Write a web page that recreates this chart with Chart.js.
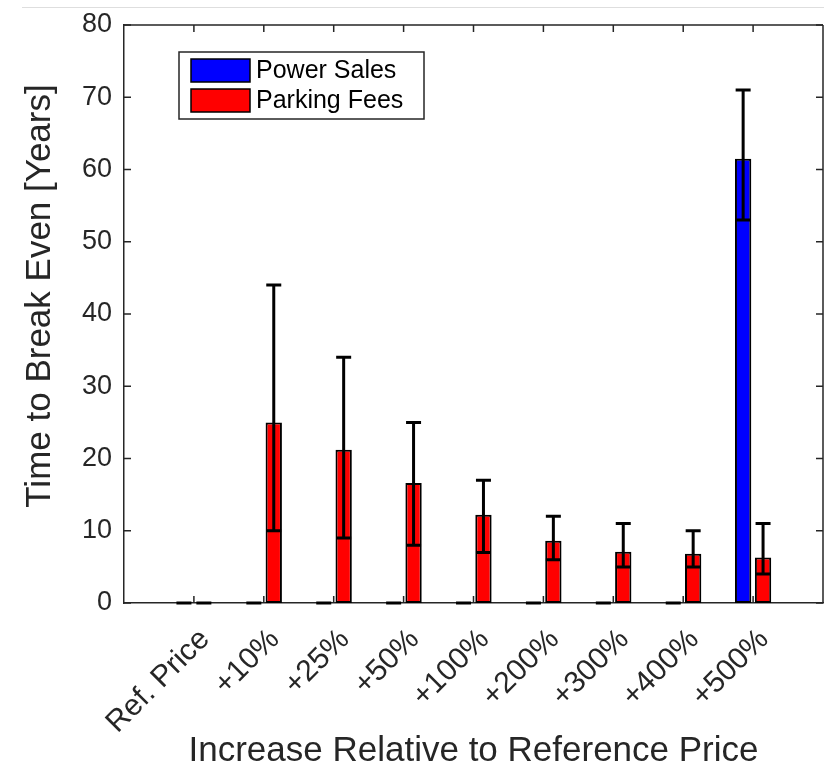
<!DOCTYPE html>
<html>
<head>
<meta charset="utf-8">
<script src="https://cdn.jsdelivr.net/npm/chart.js@4/dist/chart.umd.min.js"></script>
<style>
  html, body { margin: 0; padding: 0; background: #fff; }
  #wrap { width: 824px; height: 769px; }
</style>
</head>
<body>
<div id="wrap"><canvas id="chart" width="824" height="769"></canvas></div>
<script>
// --- data ---
const categories = ['Ref. Price', '+10%', '+25%', '+50%', '+100%', '+200%', '+300%', '+400%', '+500%'];

const powerSales     = [0, 0, 0, 0, 0, 0, 0, 0, 61.5];
const powerSalesLow  = [0, 0, 0, 0, 0, 0, 0, 0, 53];
const powerSalesHigh = [0, 0, 0, 0, 0, 0, 0, 0, 71];

const parkingFees     = [0, 25, 21.2, 16.6, 12.2, 8.6, 7.1, 6.8, 6.3];
const parkingFeesLow  = [0, 10, 9, 8, 7, 6, 5, 5, 4];
const parkingFeesHigh = [0, 44, 34, 25, 17, 12, 11, 10, 11];

const yTickValues = [0, 10, 20, 30, 40, 50, 60, 70, 80];

const AXIS = '#262626';
const FONT = '"Liberation Sans", Arial, Helvetica, sans-serif';

// MATLAB-style xlim leaves a full slot on both sides, so pad the category list
const pad = arr => [null, ...arr, null];
const labels = ['', ...categories, ''];

// error bars (drawn over the bars, like errorbar() in MATLAB)
const errorBarPlugin = {
    id: 'errorBars',
    afterDatasetsDraw(chart) {
        const ctx = chart.ctx;
        const y = chart.scales.y;
        ctx.save();
        ctx.strokeStyle = '#000';
        ctx.lineWidth = 3;
        chart.data.datasets.forEach((ds, d) => {
            const meta = chart.getDatasetMeta(d);
            meta.data.forEach((bar, i) => {
                const lo = ds.errLow[i], hi = ds.errHigh[i];
                if (lo == null || hi == null) return;
                const yl = y.getPixelForValue(lo), yh = y.getPixelForValue(hi);
                const cap = 7.5;
                ctx.beginPath();
                ctx.moveTo(bar.x, yl); ctx.lineTo(bar.x, yh);
                ctx.moveTo(bar.x - cap, yl); ctx.lineTo(bar.x + cap, yl);
                ctx.moveTo(bar.x - cap, yh); ctx.lineTo(bar.x + cap, yh);
                ctx.stroke();
            });
        });
        ctx.restore();
    }
};

// box, inward ticks, y title, legend
const decorPlugin = {
    id: 'decor',
    afterDraw(chart) {
        const ctx = chart.ctx;
        const { left, right, top, bottom } = chart.chartArea;
        const x = chart.scales.x, y = chart.scales.y;
        ctx.save();

        // faint screenshot edge at the top
        ctx.strokeStyle = '#dedede';
        ctx.lineWidth = 1;
        ctx.beginPath(); ctx.moveTo(22, 7.5); ctx.lineTo(824, 7.5); ctx.stroke();

        ctx.strokeStyle = AXIS;
        ctx.lineWidth = 1.5;
        ctx.beginPath();
        ctx.moveTo(left, top); ctx.lineTo(right, top);
        ctx.moveTo(right, top); ctx.lineTo(right, bottom);
        ctx.stroke();

        const tl = 7;
        ctx.beginPath();
        y.ticks.forEach((t, i) => {
            const py = y.getPixelForTick(i);
            ctx.moveTo(left, py); ctx.lineTo(left + tl, py);
            ctx.moveTo(right, py); ctx.lineTo(right - tl, py);
        });
        for (let i = 1; i <= categories.length; i++) {
            const px = x.getPixelForTick(i);
            ctx.moveTo(px, bottom); ctx.lineTo(px, bottom - tl);
            ctx.moveTo(px, top); ctx.lineTo(px, top + tl);
        }
        ctx.stroke();

        // y axis title
        ctx.fillStyle = AXIS;
        ctx.font = '35px ' + FONT;
        ctx.textAlign = 'center';
        ctx.textBaseline = 'middle';
        ctx.translate(40, 296);
        ctx.rotate(-Math.PI / 2);
        ctx.fillText('Time to Break Even [Years]', 0, 0);
        ctx.setTransform(1, 0, 0, 1, 0, 0);

        // legend box
        const lx = left + 55, ly = top + 27, lw = 245, lh = 67;
        ctx.fillStyle = '#fff';
        ctx.fillRect(lx, ly, lw, lh);
        ctx.strokeStyle = AXIS;
        ctx.lineWidth = 1.5;
        ctx.strokeRect(lx, ly, lw, lh);
        ctx.font = '25px ' + FONT;
        ctx.textAlign = 'left';
        chart.data.datasets.forEach((ds, d) => {
            const sy = ly + 7 + d * 30;
            ctx.fillStyle = ds.backgroundColor;
            ctx.fillRect(lx + 12, sy, 59, 23);
            ctx.strokeStyle = '#000';
            ctx.strokeRect(lx + 12, sy, 59, 23);
            ctx.fillStyle = '#000';
            ctx.fillText(ds.label, lx + 77, sy + 12);
        });
        ctx.restore();
    }
};

new Chart(document.getElementById('chart'), {
    type: 'bar',
    data: {
        labels: labels,
        datasets: [{
            label: 'Power Sales',
            data: pad(powerSales),
            errLow: pad(powerSalesLow),
            errHigh: pad(powerSalesHigh),
            backgroundColor: '#0000ff',
            borderColor: '#000',
            borderWidth: 2,
            borderSkipped: false
        }, {
            label: 'Parking Fees',
            data: pad(parkingFees),
            errLow: pad(parkingFeesLow),
            errHigh: pad(parkingFeesHigh),
            backgroundColor: '#ff0000',
            borderColor: '#000',
            borderWidth: 2,
            borderSkipped: false
        }]
    },
    options: {
        responsive: false,
        animation: false,
        devicePixelRatio: 1,
        categoryPercentage: 0.57,
        barPercentage: 0.82,
        layout: { padding: { top: 25, right: 1, left: 0, bottom: 0 } },
        plugins: {
            legend: { display: false },
            tooltip: { enabled: false }
        },
        scales: {
            x: {
                offset: false,
                grid: { display: false, drawTicks: false },
                border: { display: true, color: AXIS, width: 1.5 },
                ticks: {
                    autoSkip: false,
                    minRotation: 45,
                    maxRotation: 45,
                    padding: 19,
                    labelOffset: 11,
                    color: AXIS,
                    font: { family: FONT, size: 30 }
                },
                title: {
                    display: true,
                    text: 'Increase Relative to Reference Price',
                    color: AXIS,
                    font: { family: FONT, size: 35, lineHeight: 1 },
                    padding: { top: 0, bottom: 0 }
                },
                afterFit(scale) {
                    scale.height = 166;
                    scale.paddingLeft = 0;
                    scale.paddingRight = 0;
                }
            },
            y: {
                min: 0,
                max: 80,
                afterBuildTicks(scale) { scale.ticks = yTickValues.map(v => ({ value: v })); },
                grid: { display: false, drawTicks: false },
                border: { display: true, color: AXIS, width: 1.5 },
                ticks: {
                    padding: 12,
                    color: AXIS,
                    font: { family: FONT, size: 27 }
                },
                afterFit(scale) {
                    scale.width = 124;
                    scale.paddingTop = 0;
                    scale.paddingBottom = 0;
                }
            }
        }
    },
    plugins: [errorBarPlugin, decorPlugin]
});
</script>
</body>
</html>
